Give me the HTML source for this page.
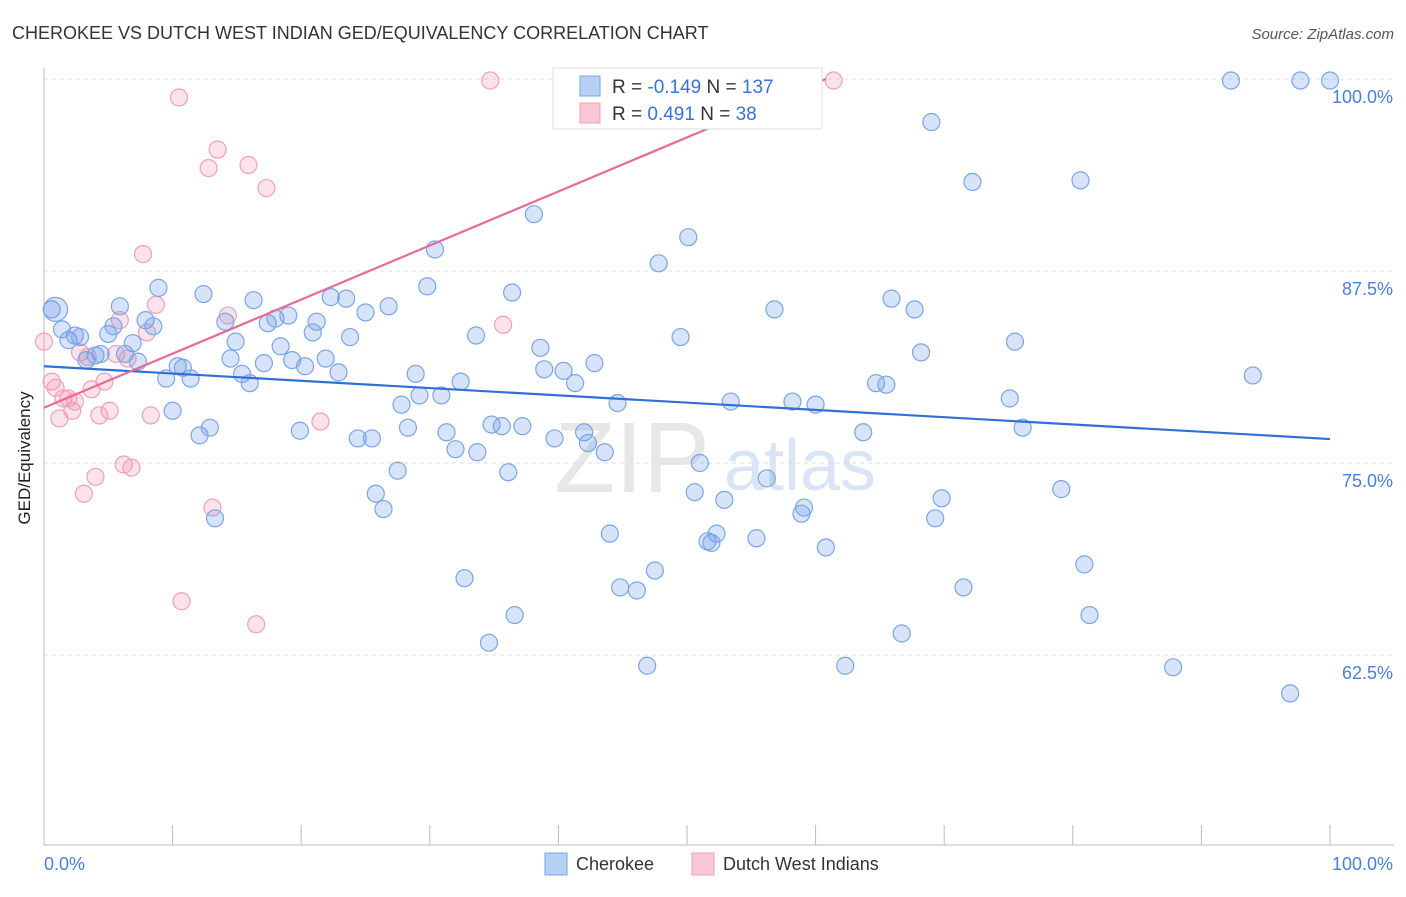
<!DOCTYPE html>
<html><head><meta charset="utf-8"><style>
body{margin:0;background:#fff;font-family:"Liberation Sans",sans-serif;}
svg text{font-family:"Liberation Sans",sans-serif;}
</style></head><body>
<svg id="c" width="1406" height="892">
<text x="12" y="39" font-size="18" fill="#333">CHEROKEE VS DUTCH WEST INDIAN GED/EQUIVALENCY CORRELATION CHART</text>
<text x="1394" y="39" font-size="15" fill="#555" text-anchor="end" font-style="italic">Source: ZipAtlas.com</text>
<g><text x="632" y="492" font-size="100" fill="#ddd" font-family="Liberation Serif" text-anchor="middle" opacity="0.7">ZIP</text><text x="800" y="490" font-size="72" fill="#c9dbf3" text-anchor="middle" opacity="0.7">atlas</text></g>
<g id="grid"></g><g id="axes"></g><g id="marks"></g><g id="lines"></g>
<text x="30" y="458" font-size="17" fill="#222" text-anchor="middle" transform="rotate(-90 30 458)">GED/Equivalency</text>
<g>
<rect x="553" y="68" width="269" height="61" fill="#fff" stroke="#ddd"/>
<rect x="580" y="76" width="20" height="20" fill="#b8d0f3" stroke="#7aa6e6"/>
<rect x="580" y="103" width="20" height="20" fill="#f8c8d8" stroke="#f0a0bb"/>
<text x="612" y="93" font-size="19" fill="#333">R = <tspan fill="#3a72d4">-0.149</tspan>   N = <tspan fill="#3a72d4">137</tspan></text>
<text x="612" y="120" font-size="19" fill="#333">R =  <tspan fill="#3a72d4">0.491</tspan>   N =  <tspan fill="#3a72d4">38</tspan></text>
</g>
<g>
<rect x="545" y="853" width="22" height="22" fill="#b8d0f3" stroke="#7aa6e6"/>
<text x="576" y="870" font-size="18" fill="#333">Cherokee</text>
<rect x="692" y="853" width="22" height="22" fill="#f8c8d8" stroke="#f0a0bb"/>
<text x="723" y="870" font-size="18" fill="#333">Dutch West Indians</text>
</g>
</svg>
<script>
const blueX=[0.6,0.9,1.4,1.9,2.4,2.8,3.3,4.0,4.4,5.0,5.4,5.9,6.3,6.9,7.3,7.9,8.5,8.9,9.5,10.0,10.4,10.8,11.4,12.1,12.4,12.9,13.3,14.1,14.5,14.9,15.4,16.0,16.3,17.1,17.4,18.0,18.4,19.0,19.3,19.9,20.3,20.9,21.2,21.9,22.3,22.9,23.5,23.8,24.4,25.0,25.5,25.8,26.4,26.8,27.5,27.8,28.3,28.9,29.2,29.8,30.4,30.9,31.3,32.0,32.4,32.7,33.6,33.7,34.6,34.8,35.6,36.1,36.4,36.6,37.2,38.1,38.6,38.9,39.7,40.4,41.3,42.0,42.3,42.8,43.6,44.0,44.6,44.8,46.1,46.9,47.5,47.8,49.5,50.1,50.6,51.0,51.6,51.9,52.3,52.9,53.4,55.4,56.2,56.8,58.2,58.9,59.1,60.0,60.8,62.3,63.7,64.7,65.5,65.9,66.7,67.7,68.2,69.0,69.3,69.8,71.5,72.2,75.1,75.5,76.1,79.1,80.6,80.9,81.3,87.8,92.3,94.0,96.9,97.7,100.0,53.7];
const blueY=[85.0,85.0,83.7,83.0,83.3,83.2,81.7,82.0,82.1,83.4,83.9,85.2,82.1,82.8,81.6,84.3,83.9,86.4,80.5,78.4,81.3,81.2,80.5,76.8,86.0,77.3,71.4,84.2,81.8,82.9,80.8,80.2,85.6,81.5,84.1,84.4,82.6,84.6,81.7,77.1,81.3,83.5,84.2,81.8,85.8,80.9,85.7,83.2,76.6,84.8,76.6,73.0,72.0,85.2,74.5,78.8,77.3,80.8,79.4,86.5,88.9,79.4,77.0,75.9,80.3,67.5,83.3,75.7,63.3,77.5,77.4,74.4,86.1,65.1,77.4,91.2,82.5,81.1,76.6,81.0,80.2,77.0,76.3,81.5,75.7,70.4,78.9,66.9,66.7,61.8,68.0,88.0,83.2,89.7,73.1,75.0,69.9,69.8,70.4,72.6,79.0,70.1,74.0,85.0,79.0,71.7,72.1,78.8,69.5,61.8,77.0,80.2,80.1,85.7,63.9,85.0,82.2,97.2,71.4,72.7,66.9,93.3,79.2,82.9,77.3,73.3,93.4,68.4,65.1,61.7,99.9,80.7,60.0,99.9,99.9,100.0];
const pinkX=[0,0.6,0.9,1.2,1.5,1.9,2.2,2.4,2.8,3.1,3.4,3.7,4.0,4.3,4.7,5.1,5.6,5.9,6.2,6.5,6.8,7.7,8.0,8.3,8.7,10.5,10.7,12.8,13.1,13.5,14.3,15.9,16.5,17.3,21.5,34.7,35.7,61.4];
const pinkY=[82.9,80.3,79.9,77.9,79.2,79.2,78.4,79.0,82.2,73.0,81.9,79.8,74.1,78.1,80.3,78.4,82.1,84.3,74.9,81.8,74.7,88.6,83.5,78.1,85.3,98.8,66.0,94.2,72.1,95.4,84.6,94.4,64.5,92.9,77.7,99.9,84.0,99.9];
const blueTrend=[81.3,76.56];
const pinkTrend=[78.6,100,60.8];
const yTicks=[100,87.5,75,62.5];
const yTickLabels=["100.0%","87.5%","75.0%","62.5%"];
const xTicks=[0,10,20,30,40,50,60,70,80,90,100];
const xs=v=>44+v*12.86, ys=v=>79+(100-v)*15.36;
const NS="http://www.w3.org/2000/svg";
function mk(p,t,a){const e=document.createElementNS(NS,t);for(const k in a)e.setAttribute(k,a[k]);document.getElementById(p).appendChild(e);return e;}
yTicks.forEach((t,i)=>{
 const g=mk('grid','line',{x1:44,x2:1394,y1:ys(t),y2:ys(t),stroke:'#ddd','stroke-dasharray':'4,4'});
 
 
 const l=mk('axes','text',{x:1393,y:ys(t)+24,'font-size':18,fill:'#4a7fd6','text-anchor':'end'});l.textContent=yTickLabels[i];
 
 
});
const ax=mk('axes','line',{x1:44,x2:1394,y1:845,y2:845,stroke:'#bbb'});


const ay=mk('axes','line',{x1:44,x2:44,y1:68,y2:845,stroke:'#bbb'});


xTicks.forEach(t=>{const e=mk('axes','line',{x1:xs(t),x2:xs(t),y1:825,y2:845,stroke:'#bbb'});
 
 });
[["0.0%",44,'start'],["100.0%",1393,'end']].forEach(d=>{const e=mk('axes','text',{x:d[1],y:870,'font-size':18,fill:'#4a7fd6','text-anchor':d[2]});e.textContent=d[0];
 
 });
pinkX.forEach((x,i)=>{const c=mk('marks','circle',{cx:xs(x),cy:ys(pinkY[i]),r:8.5,fill:'rgba(242,150,182,0.28)',stroke:'#f0a0bb','stroke-width':1.2});
 
 });
blueX.forEach((x,i)=>{const c=mk('marks','circle',{cx:xs(x),cy:ys(blueY[i]),r:i==1?12:8.5,fill:'rgba(110,155,230,0.28)',stroke:'#7aa6e6','stroke-width':1.2});
 
 });
const bl=mk('lines','line',{x1:xs(0),y1:ys(blueTrend[0]),x2:xs(100),y2:ys(blueTrend[1]),stroke:'#2f6fd6','stroke-width':2.2});


const pl=mk('lines','line',{x1:xs(0),y1:ys(pinkTrend[0]),x2:xs(pinkTrend[2]),y2:ys(pinkTrend[1]),stroke:'#e8699a','stroke-width':2.2});


</script>
</body></html>
